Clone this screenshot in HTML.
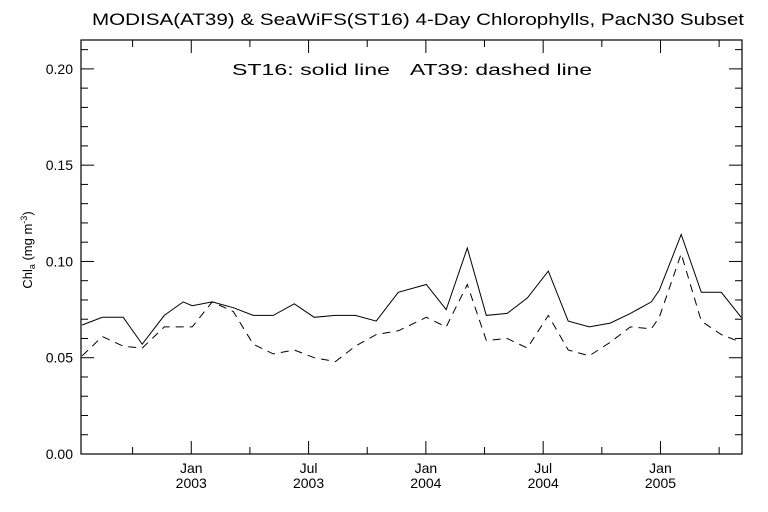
<!DOCTYPE html>
<html><head><meta charset="utf-8"><style>
body{margin:0;background:#fff;}
svg{display:block;font-family:"Liberation Sans",sans-serif;}
text{fill:#000;}
</style></head><body>
<svg id="chart" width="768" height="512" viewBox="0 0 768 512">
<text x="92" y="25" font-size="17" textLength="652" lengthAdjust="spacingAndGlyphs">MODISA(AT39) &amp; SeaWiFS(ST16) 4-Day Chlorophylls, PacN30 Subset</text>
<text x="232" y="75" font-size="16" textLength="158" lengthAdjust="spacingAndGlyphs">ST16: solid line</text>
<text x="410" y="75" font-size="16" textLength="182" lengthAdjust="spacingAndGlyphs">AT39: dashed line</text>
<text transform="translate(32,250) rotate(-90)" font-size="13" text-anchor="middle">Chl<tspan font-size="9" dy="3">a</tspan><tspan dy="-3"> (mg m</tspan><tspan font-size="9" dy="-5">-3</tspan><tspan dy="5">)</tspan></text>
<g id="axes"></g>
<g id="series"></g>
</svg>
<script>
const months = [-5.58,-4.55,-3.48,-2.51,-1.38,-0.41,0.05,1.07,2.15,3.17,4.19,5.27,6.29,7.37,8.39,9.46,10.59,12.02,13.04,14.12,15.09,16.16,17.19,18.26,19.28,20.36,21.43,22.46,23.53,23.94,25.06,26.09,27.11,28.13];
const st16 = [0.067,0.071,0.071,0.057,0.072,0.079,0.077,0.079,0.076,0.072,0.072,0.078,0.071,0.072,0.072,0.069,0.084,0.088,0.075,0.107,0.072,0.073,0.081,0.095,0.069,0.066,0.068,0.073,0.079,0.085,0.114,0.084,0.084,0.071];
const at39 = [0.051,0.061,0.056,0.055,0.066,0.066,0.066,0.079,0.074,0.057,0.052,0.054,0.050,0.048,0.056,0.062,0.064,0.071,0.066,0.088,0.059,0.060,0.055,0.072,0.054,0.051,0.058,0.066,0.065,0.071,0.104,0.069,0.062,0.058];
const yTicks = [0.00,0.05,0.10,0.15,0.20];
const xTickMonths = [0,6,12,18,24];
const xTickLabels = [["Jan","2003"],["Jul","2003"],["Jan","2004"],["Jul","2004"],["Jan","2005"]];

const L=81,R=742,T=40,B=454;
const xMin=-5.64,xMax=28.17,yMin=0,yMax=0.215;
const X=m=>L+(m-xMin)/(xMax-xMin)*(R-L);
const Y=v=>B-(v-yMin)/(yMax-yMin)*(B-T);
const NS="http://www.w3.org/2000/svg";
function mk(tag,attrs,parent){const e=document.createElementNS(NS,tag);for(const k in attrs)e.setAttribute(k,attrs[k]);parent.appendChild(e);return e;}
const ax=document.getElementById('axes');
const frame=mk('rect',{x:L,y:T,width:R-L,height:B-T,fill:'none',stroke:'#000','stroke-width':1.2},ax);


for(let v=0;v<=0.2151;v+=0.01){
  const major=Math.abs(v/0.05-Math.round(v/0.05))<1e-6;
  const len=major?13:7;
  const t1=mk('line',{x1:L,x2:L+len,y1:Y(v),y2:Y(v),stroke:'#000'},ax);
  
  
  const t2=mk('line',{x1:R,x2:R-len,y1:Y(v),y2:Y(v),stroke:'#000'},ax);
  
  
}
yTicks.forEach(v=>{
  const t=mk('text',{x:L-8,y:Y(v)+5,'font-size':14,'text-anchor':'end'},ax);
  t.textContent=v.toFixed(2);
  
  
});
for(let m=-3;m<=27;m+=3){
  const major=m%6===0;
  const len=major?13:7;
  const a=mk('line',{x1:X(m),x2:X(m),y1:B,y2:B-len,stroke:'#000'},ax);
  
  
  const b=mk('line',{x1:X(m),x2:X(m),y1:T,y2:T+len,stroke:'#000'},ax);
  
  
}
xTickMonths.forEach((m,i)=>{
  const t1=mk('text',{x:X(m),y:473,'font-size':14,'text-anchor':'middle'},ax);
  t1.textContent=xTickLabels[i][0];
  
  
  const t2=mk('text',{x:X(m),y:488,'font-size':14,'text-anchor':'middle'},ax);
  t2.textContent=xTickLabels[i][1];
  
  
});
const sg=document.getElementById('series');
function pts(vals){return months.map((m,i)=>X(m).toFixed(1)+','+Y(vals[i]).toFixed(1)).join(' ');}
const s1=mk('polyline',{points:pts(st16),fill:'none',stroke:'#000','stroke-width':1},sg);


const s2=mk('polyline',{points:pts(at39),fill:'none',stroke:'#000','stroke-width':1,'stroke-dasharray':'8,6'},sg);


</script>
</body></html>
